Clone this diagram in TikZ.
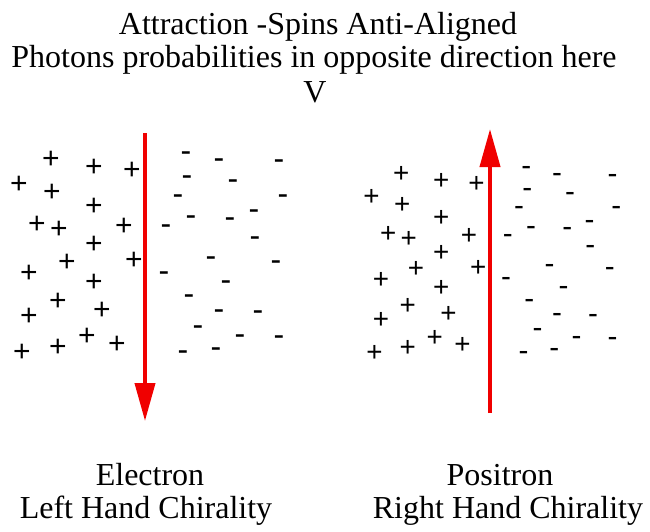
\documentclass[tikz,border=0pt]{standalone}
\usepackage{fontspec}
\setmainfont{Liberation Serif}
\newfontfamily\chargefont{Liberation Sans}
\usetikzlibrary{arrows.meta}
\definecolor{spinred}{HTML}{F00000}
\tikzset{
  headline/.style={font=\fontsize{32}{36}\selectfont, anchor=base, inner sep=0pt},
  poscharge/.style={font=\chargefont\fontsize{30}{30}\selectfont, anchor=base, inner sep=0pt, yshift=-10.8pt},
  negcharge/.style={font=\chargefont\fontsize{32}{32}\selectfont, anchor=base, inner sep=0pt, yshift=-8.5pt},
  spin/.style={-{Triangle[length=38pt,width=20pt]}, line width=4pt, draw=spinred}
}
% one cloud of charges, drawn twice
\newcommand{\chargecloud}[1]{%
  \foreach \x/\y [count=\i] in {51/158, 94/166, 132/169, 19/183, 52/191, 94/205,
      37/223, 59/228, 124/225, 94/243, 67/261, 134/259, 29/272, 94/281,
      58/300, 102/309, 29/315, 87/335, 117/343, 22/351, 58/346}
    \node[poscharge] (#1p\i) at (\x,\y) {+};
  \foreach \x/\y [count=\i] in {186/153, 219/160, 279/161, 187/177, 233/181,
      178/196, 283/196, 254/211, 191/217, 230/219, 166/226, 255/238,
      211/258, 276/262, 164/273, 226/282, 189/296, 219/311, 258/312,
      198/327, 240/336, 279/337, 183/352, 216/349}
    \node[negcharge] (#1m\i) at (\x,\y) {-};
}

\begin{document}
\begin{tikzpicture}[x=1pt,y=-1pt]
\useasboundingbox (0,0) rectangle (650,531);

\node[headline] (title) at (318,34) {Attraction -Spins Anti-Aligned};
\node[headline] (subtitle) at (314,67) {Photons probabilities in opposite direction here};
\node[headline] (vmark) at (315,102) {V};

% electron side
\chargecloud{e}
\coordinate (etop) at (145,133);
\coordinate (ebot) at (145,421);
\draw[spin] (etop) -- (ebot);

% positron side, same cloud a bit smaller
\begin{scope}[shift={(354,26)}, scale=0.927, every node/.append style={transform shape}]
\chargecloud{r}
\end{scope}
\coordinate (pbot) at (490,413);
\coordinate (ptop) at (490,129);
\draw[spin] (pbot) -- (ptop);

\node[headline] (electron) at (150,485) {Electron};
\node[headline] (lefthand) at (146,518) {Left Hand Chirality};
\node[headline] (positron) at (500,485) {Positron};
\node[headline] (righthand) at (508,518) {Right Hand Chirality};
\end{tikzpicture}
\end{document}
